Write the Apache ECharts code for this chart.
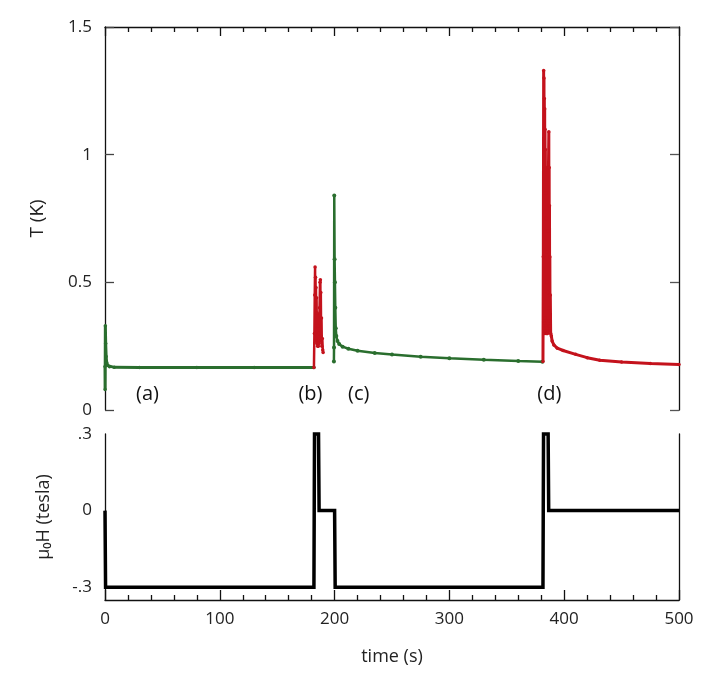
<!DOCTYPE html>
<html>
<head>
    <meta charset="utf-8">
    <script src="https://cdn.jsdelivr.net/npm/echarts@6/dist/echarts.min.js"></script>
</head>
<body style="margin:0">
    <div id="main" style="width:717px;height:684px"></div>

    <script type="text/javascript">
        // temperature T (K) vs time (s), green = field steady/decay, red = field switching
        var tempGreenA = [[0,0.17],[0.1,0.08],[0.3,0.33],[0.6,0.26],[1,0.21],[1.5,0.185],[2.5,0.174],[4,0.169],[8,0.167],[30,0.166],[80,0.166],[130,0.166],[182,0.166]];
        var tempRedB = [[182,0.166],[182.4,0.3],[182.7,0.45],[183,0.56],[183.2,0.3],[183.4,0.52],[183.6,0.28],[183.8,0.48],[184,0.27],[184.3,0.44],[184.6,0.26],[184.9,0.38],[185.2,0.25],[185.5,0.33],[185.8,0.25],[186.1,0.3],[186.5,0.26],[186.9,0.4],[187.3,0.5],[187.6,0.51],[187.8,0.28],[188,0.46],[188.3,0.27],[188.6,0.36],[188.9,0.25],[189.3,0.28],[189.7,0.235],[190,0.225]];
        var tempGreenC = [[199.4,0.19],[199.5,0.245],[199.7,0.84],[200,0.59],[200.3,0.5],[200.6,0.4],[201,0.32],[201.5,0.29],[202.5,0.27],[204,0.258],[207,0.248],[212,0.24],[220,0.232],[235,0.223],[250,0.217],[275,0.209],[300,0.203],[330,0.197],[360,0.192],[381,0.189]];
        var tempRedD = [[381.5,0.19],[381.8,0.6],[382.1,1.33],[382.25,0.35],[382.4,1.3],[382.55,0.32],[382.7,1.22],[382.85,0.34],[383,1.18],[383.15,0.3],[383.3,1.1],[383.45,0.36],[383.6,1.02],[383.75,0.31],[383.9,0.95],[384.05,0.33],[384.2,0.85],[384.35,0.3],[384.5,0.75],[384.65,0.32],[384.8,0.62],[385,0.3],[385.2,0.5],[385.4,0.3],[385.6,0.46],[385.8,0.31],[386,0.7],[386.3,0.95],[386.6,1.09],[386.75,0.4],[386.9,0.95],[387.05,0.35],[387.2,0.8],[387.35,0.33],[387.5,0.6],[387.7,0.31],[387.9,0.45],[388.2,0.3],[388.8,0.29],[389.5,0.27],[391,0.255],[394,0.242],[399,0.233],[410,0.218],[420,0.205],[431,0.195],[450,0.188],[475,0.182],[500,0.178]];

        // applied field mu0H (tesla) vs time (s)
        var fieldSteps = [[0,0],[0.5,-0.3],[182,-0.3],[182.5,0.3],[186,0.3],[186.5,0],[200,0],[200.5,-0.3],[381.5,-0.3],[382,0.3],[386,0.3],[386.5,0],[500,0]];

        // panel annotations
        var annoNames = ['(a)','(b)','(c)','(d)'];
        var annoTimes = [37,179,221,387];
        var annoT = 0.06;

        var timeTicks = [0,100,200,300,400,500];

        var FONT = 'Open Sans';
        var green = '#2a6e2e';
        var red = '#c4121c';

        var annoData = [];
        for (var i = 0; i < annoNames.length; i++) {
            annoData.push({name: annoNames[i], value: [annoTimes[i], annoT]});
        }

        var myChart = echarts.init(document.getElementById('main'));
        var option = {
            animation: false,
            backgroundColor: '#fff',
            grid: [
                {left: 105, right: 38, top: 27, height: 383},
                {left: 105, right: 38, top: 434, height: 166}
            ],
            xAxis: [{
                gridIndex: 0, type: 'value', position: 'top',
                min: timeTicks[0], max: timeTicks[timeTicks.length - 1], interval: 100,
                axisLine: {show: true, onZero: false, lineStyle: {color: '#111', width: 1.3}},
                axisTick: {show: true, inside: true, length: 9, lineStyle: {color: '#111', width: 1.3}},
                minorTick: {show: true, splitNumber: 5, length: 5, lineStyle: {color: '#111', width: 1.3}},
                axisLabel: {show: false},
                splitLine: {show: false}
            }, {
                gridIndex: 1, type: 'value', position: 'bottom',
                min: timeTicks[0], max: timeTicks[timeTicks.length - 1], interval: 100,
                name: 'time (s)', nameLocation: 'middle', nameGap: 48,
                nameTextStyle: {fontFamily: FONT, fontSize: 18, color: '#222'},
                axisLine: {show: true, onZero: false, lineStyle: {color: '#111', width: 1.3}},
                axisTick: {show: true, inside: true, length: 10, lineStyle: {color: '#111', width: 1.3}},
                minorTick: {show: true, splitNumber: 5, length: 5, lineStyle: {color: '#111', width: 1.3}},
                axisLabel: {fontFamily: FONT, fontSize: 17, color: '#222', margin: 11},
                splitLine: {show: false}
            }],
            yAxis: [{
                gridIndex: 0, type: 'value', min: 0, max: 1.5, interval: 0.5,
                name: 'T (K)', nameLocation: 'middle', nameGap: 58,
                nameTextStyle: {fontFamily: FONT, fontSize: 19, color: '#222'},
                axisLine: {show: true, onZero: false, lineStyle: {color: '#111', width: 1.3}},
                axisTick: {show: true, inside: true, length: 9, lineStyle: {color: '#444', width: 1.3}},
                axisLabel: {fontFamily: FONT, fontSize: 17, color: '#222', margin: 13},
                splitLine: {show: false}
            }, {
                gridIndex: 0, type: 'value', position: 'right', min: 0, max: 1.5, interval: 0.5,
                axisLine: {show: true, onZero: false, lineStyle: {color: '#111', width: 1.3}},
                axisTick: {show: true, inside: true, length: 9, lineStyle: {color: '#555', width: 1.3}},
                axisLabel: {show: false},
                splitLine: {show: false}
            }, {
                gridIndex: 1, type: 'value', min: -0.35, max: 0.3, interval: 0.05,
                name: 'μ₀H (tesla)', nameLocation: 'middle', nameGap: 52,
                nameTextStyle: {fontFamily: FONT, fontSize: 18, color: '#222'},
                axisLine: {show: true, onZero: false, lineStyle: {color: '#111', width: 1.3}},
                axisTick: {show: false},
                axisLabel: {
                    fontFamily: FONT, fontSize: 17, color: '#222', margin: 13, showMinLabel: true,
                    formatter: function (v) {
                        if (Math.abs(v - 0.3) < 1e-6) return '.3';
                        if (Math.abs(v) < 1e-6) return '0';
                        if (Math.abs(v + 0.3) < 1e-6) return '-.3';
                        return '';
                    }
                },
                splitLine: {show: false}
            }, {
                gridIndex: 1, type: 'value', position: 'right', min: -0.35, max: 0.3,
                axisLine: {show: true, onZero: false, lineStyle: {color: '#111', width: 1.3}},
                axisTick: {show: false},
                axisLabel: {show: false},
                splitLine: {show: false}
            }],
            series: [{
                type: 'line', xAxisIndex: 0, yAxisIndex: 0, data: tempGreenA,
                symbol: 'circle', symbolSize: 3.5, showSymbol: true,
                itemStyle: {color: green}, lineStyle: {color: green, width: 3}
            }, {
                type: 'line', xAxisIndex: 0, yAxisIndex: 0, data: tempRedB,
                symbol: 'circle', symbolSize: 3.5, showSymbol: true,
                itemStyle: {color: red}, lineStyle: {color: red, width: 2.5}
            }, {
                type: 'line', xAxisIndex: 0, yAxisIndex: 0, data: tempGreenC,
                symbol: 'circle', symbolSize: 4, showSymbol: true,
                itemStyle: {color: green}, lineStyle: {color: green, width: 2.5}
            }, {
                type: 'line', xAxisIndex: 0, yAxisIndex: 0, data: tempRedD,
                symbol: 'circle', symbolSize: 3.5, showSymbol: true,
                itemStyle: {color: red}, lineStyle: {color: red, width: 3}
            }, {
                type: 'scatter', xAxisIndex: 0, yAxisIndex: 0, data: annoData,
                symbolSize: 1, silent: true,
                itemStyle: {color: 'rgba(0,0,0,0)', opacity: 1},
                label: {
                    show: true, position: 'inside', formatter: '{b}',
                    fontFamily: FONT, fontSize: 20, color: '#111',
                    opacity: 1, textBorderWidth: 0
                }
            }, {
                type: 'line', xAxisIndex: 1, yAxisIndex: 2, data: fieldSteps,
                symbol: 'none', clip: false,
                lineStyle: {color: '#000', width: 3.5, join: 'miter'}
            }]
        };

        myChart.setOption(option);
    </script>
</body>
</html>
